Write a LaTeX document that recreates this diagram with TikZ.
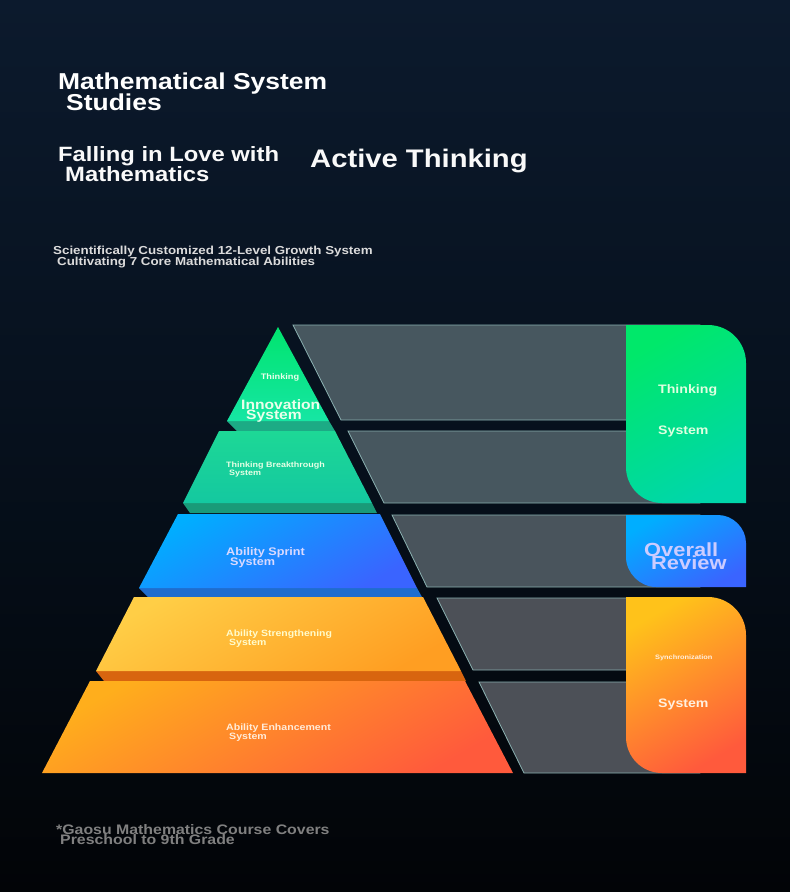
\documentclass[tikz,border=0pt]{standalone}
\usepackage{fontspec}
\setmainfont{Liberation Sans}[FakeStretch=1.15]
\definecolor{bgtop}{HTML}{0C1A2D}
\definecolor{bgmid}{HTML}{06101C}
\definecolor{bgbot}{HTML}{020407}
\definecolor{panelA}{HTML}{47575F}
\definecolor{panelB}{HTML}{4C5057}
\definecolor{panelline}{HTML}{8AB0B0}
\definecolor{grnA}{HTML}{00E46E}
\definecolor{grnB}{HTML}{16E6A4}
\definecolor{grnC}{HTML}{1DD896}
\definecolor{grnD}{HTML}{14C8A0}
\definecolor{grnband}{HTML}{1CAB85}
\definecolor{bluA}{HTML}{00AEFF}
\definecolor{bluB}{HTML}{3A64FF}
\definecolor{bluband}{HTML}{1F6DCE}
\definecolor{ylwA}{HTML}{FFCE46}
\definecolor{ylwB}{HTML}{FF9E22}
\definecolor{orgA}{HTML}{FFAE1C}
\definecolor{orgB}{HTML}{FF5A3C}
\definecolor{orgC}{HTML}{FFC21A}
\definecolor{orgband}{HTML}{D8650F}
\definecolor{boxgA}{HTML}{00E86A}
\definecolor{boxgB}{HTML}{00D6AA}
\newcommand{\fsz}[1]{\fontsize{#1}{#1}\selectfont}
\tikzset{
  lbl/.style={anchor=base west, inner sep=0pt, font=\bfseries},
  panel/.style={fill=#1, draw=panelline, line width=0.8pt},
}
\begin{document}
\begin{tikzpicture}[x=1pt,y=-1pt]
  \useasboundingbox (0,0) rectangle (790,892);
  % background
  \fill[top color=bgtop, bottom color=bgbot, middle color=bgmid] (0,0) rectangle (790,892);
  % headings
  \node[lbl, white] (title) at (58,89) {\fsz{23}Mathematical System};
  \node[lbl, white] (titleb) at (66,110) {\fsz{23}Studies};
  \node[lbl, white!95!gray] (love) at (58,161.5) {\fsz{20.7}Falling in Love with};
  \node[lbl, white!95!gray] (loveb) at (65,181) {\fsz{20.7}Mathematics};
  \node[lbl, white!95!gray] (active) at (310,167) {\fsz{25.4}Active Thinking};
  \node[lbl, white!72!gray] (sub) at (53,254.5) {\fsz{11.6}Scientifically Customized 12-Level Growth System};
  \node[lbl, white!72!gray] (subb) at (57,265.5) {\fsz{11.6}Cultivating 7 Core Mathematical Abilities};
  % panels behind
  \draw[panel=panelA] (293,325) -- (700,325) -- (700,420) -- (341,420) -- cycle;
  \draw[panel=panelA] (348,431) -- (700,431) -- (700,503) -- (384,503) -- cycle;
  \draw[panel=panelA!60!panelB] (392,515) -- (700,515) -- (700,587) -- (427,587) -- cycle;
  \draw[panel=panelB] (437,598) -- (700,598) -- (700,670) -- (473,670) -- cycle;
  \draw[panel=panelB] (479,682) -- (700,682) -- (700,773) -- (524,773) -- cycle;
  %A
  \fill[grnband] (227,421) -- (329,421) -- (335,431) -- (237,431) -- cycle;
  \shade[top color=grnA, bottom color=grnB] (278,327) -- (329,421) -- (227,421) -- cycle;
  %B
  \fill[grnband!90!black] (183,503) -- (372,503) -- (377,513) -- (190,513) -- cycle;
  \shade[top color=grnC, bottom color=grnD] (219,431) -- (335,431) -- (372,503) -- (183,503) -- cycle;
  %C
  \fill[bluband] (139,588) -- (417,588) -- (422,597) -- (148,597) -- cycle;
  \shade[top color=bluA, bottom color=bluB, shading angle=30] (178,514) -- (380,514) -- (417,588) -- (139,588) -- cycle;
  %D
  \fill[orgband] (96,671) -- (461,671) -- (466,681) -- (104,681) -- cycle;
  \shade[top color=ylwA, bottom color=ylwB, shading angle=30] (134,597) -- (423,597) -- (461,671) -- (96,671) -- cycle;
  %E
  \shade[top color=orgA, bottom color=orgB, shading angle=30] (90,681) -- (465,681) -- (513,773) -- (42,773) -- cycle;
  % pyramid labels
  \node[anchor=base, inner sep=0pt, font=\bfseries, white!92!green] (thk) at (280,379) {\fsz{8}Thinking};
  \node[lbl, white!92!green] (inno) at (241,409) {\fsz{13.6}Innovation};
  \node[lbl, white!92!green] (innob) at (246,419) {\fsz{13.6}System};
  \node[lbl, white!90!green] (brk) at (226,467) {\fsz{7.8}Thinking Breakthrough};
  \node[lbl, white!90!green] (brkb) at (229,475) {\fsz{7.8}System};
  \node[lbl, white!85!blue] (spr) at (226,555) {\fsz{11}Ability Sprint};
  \node[lbl, white!85!blue] (sprb) at (230,565) {\fsz{11}System};
  \node[lbl, white!80!yellow] (str) at (226,636) {\fsz{9.1}Ability Strengthening};
  \node[lbl, white!80!yellow] (strb) at (229,645) {\fsz{9.1}System};
  \node[lbl, white!85!orange] (enh) at (226,730) {\fsz{9.2}Ability Enhancement};
  \node[lbl, white!85!orange] (enhb) at (229,739) {\fsz{9.2}System};
  % right boxes
  \shade[top color=boxgA, bottom color=boxgB, shading angle=30]
    (626,325) -- (708,325) .. controls (729,325) and (746,342) .. (746,363)
    -- (746,503) -- (662,503) .. controls (642,503) and (626,487) .. (626,467) -- cycle;
  \shade[top color=bluA, bottom color=bluB, shading angle=30]
    (626,515) -- (718,515) .. controls (733,515) and (746,528) .. (746,543)
    -- (746,587) -- (656,587) .. controls (640,587) and (626,573) .. (626,557) -- cycle;
  \shade[top color=orgC, bottom color=orgB, shading angle=30]
    (626,597) -- (708,597) .. controls (729,597) and (746,614) .. (746,635)
    -- (746,773) -- (662,773) .. controls (642,773) and (626,757) .. (626,737) -- cycle;
  \node[lbl, white!88!green] (bthk) at (658,393) {\fsz{12.3}Thinking};
  \node[lbl, white!88!green] (bsys) at (658,434) {\fsz{12.3}System};
  \node[lbl, white!80!blue] (ovr) at (644,556) {\fsz{19}Overall};
  \node[lbl, white!80!blue] (rev) at (651,569) {\fsz{19}Review};
  \node[lbl, white!88!orange] (syn) at (655,659) {\fsz{6.4}Synchronization};
  \node[lbl, white!88!orange] (osys) at (658,707) {\fsz{12.3}System};
  % footnote
  \node[lbl, gray] (note) at (56,834) {\fsz{13.8}*Gaosu Mathematics Course Covers};
  \node[lbl, gray] (noteb) at (60,844) {\fsz{13.8}Preschool to 9th Grade};
\end{tikzpicture}
\end{document}
